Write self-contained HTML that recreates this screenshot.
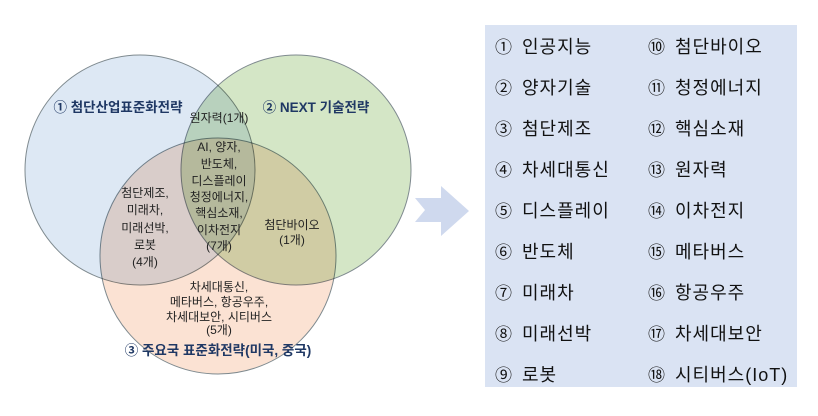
<!DOCTYPE html>
<html><head><meta charset="utf-8"><style>
html,body{margin:0;padding:0;background:#fff;}
body{width:818px;height:416px;position:relative;overflow:hidden;font-family:"Liberation Sans","Noto Sans CJK KR",sans-serif;}
.panel{position:absolute;left:485px;top:25px;width:312px;height:362px;background:#dae3f3;}
.it{position:absolute;font-size:18px;color:#111;white-space:nowrap;line-height:20px;letter-spacing:1px;}
.n{display:inline-block;width:27px;font-size:17px;}
</style></head><body>
<svg width="818" height="416" style="position:absolute;left:0;top:0">
<g style="isolation:isolate">
<circle cx="140" cy="170" r="115" fill="#dde8f4" stroke="#7f8a8f" stroke-width="1" style="mix-blend-mode:multiply"/>
<circle cx="296" cy="170" r="115" fill="#d4e6c6" stroke="#7f8a8f" stroke-width="1" style="mix-blend-mode:multiply"/>
<circle cx="218" cy="256" r="118" fill="#fbe2d3" stroke="#7f8a8f" stroke-width="1" style="mix-blend-mode:multiply"/>
</g>
<g font-family="Liberation Sans, Noto Sans CJK KR, sans-serif" text-anchor="middle">
<g font-size="13.5" font-weight="bold" fill="#1f3864">
<text x="118" y="112">① 첨단산업표준화전략</text>
<text x="316" y="112">② NEXT 기술전략</text>
<text x="218" y="355">③ 주요국 표준화전략(미국, 중국)</text>
</g>
<g font-size="12" fill="#222">
<text x="219" y="122">원자력(1개)</text>
<text x="219" y="151">AI, 양자,</text>
<text x="219" y="168">반도체,</text>
<text x="219" y="185">디스플레이</text>
<text x="219" y="201">청정에너지,</text>
<text x="219" y="217">핵심소재,</text>
<text x="219" y="234">이차전지</text>
<text x="219" y="250">(7개)</text>
<text x="145" y="197">첨단제조,</text>
<text x="145" y="214">미래차,</text>
<text x="145" y="232">미래선박,</text>
<text x="145" y="249">로봇</text>
<text x="145" y="266">(4개)</text>
<text x="292" y="229">첨단바이오</text>
<text x="292" y="244">(1개)</text>
<text x="219" y="291">차세대통신,</text>
<text x="219" y="306">메타버스, 항공우주,</text>
<text x="219" y="321">차세대보안, 시티버스</text>
<text x="219" y="334">(5개)</text>
</g>
</g>
<polygon points="415,198 441,198 441,186 469,211 441,236 441,222 415,222 425,210" fill="#cfd9ee"/>
</svg>
<div class="panel"></div>
<div class="it" style="left:495px;top:37px"><span class="n">①</span>인공지능</div>
<div class="it" style="left:495px;top:78px"><span class="n">②</span>양자기술</div>
<div class="it" style="left:495px;top:119px"><span class="n">③</span>첨단제조</div>
<div class="it" style="left:495px;top:160px"><span class="n">④</span>차세대통신</div>
<div class="it" style="left:495px;top:201px"><span class="n">⑤</span>디스플레이</div>
<div class="it" style="left:495px;top:242px"><span class="n">⑥</span>반도체</div>
<div class="it" style="left:495px;top:283px"><span class="n">⑦</span>미래차</div>
<div class="it" style="left:495px;top:324px"><span class="n">⑧</span>미래선박</div>
<div class="it" style="left:495px;top:365px"><span class="n">⑨</span>로봇</div>
<div class="it" style="left:648px;top:37px"><span class="n">⑩</span>첨단바이오</div>
<div class="it" style="left:648px;top:78px"><span class="n">⑪</span>청정에너지</div>
<div class="it" style="left:648px;top:119px"><span class="n">⑫</span>핵심소재</div>
<div class="it" style="left:648px;top:160px"><span class="n">⑬</span>원자력</div>
<div class="it" style="left:648px;top:201px"><span class="n">⑭</span>이차전지</div>
<div class="it" style="left:648px;top:242px"><span class="n">⑮</span>메타버스</div>
<div class="it" style="left:648px;top:283px"><span class="n">⑯</span>항공우주</div>
<div class="it" style="left:648px;top:324px"><span class="n">⑰</span>차세대보안</div>
<div class="it" style="left:648px;top:365px"><span class="n">⑱</span>시티버스(IoT)</div>
</body></html>
